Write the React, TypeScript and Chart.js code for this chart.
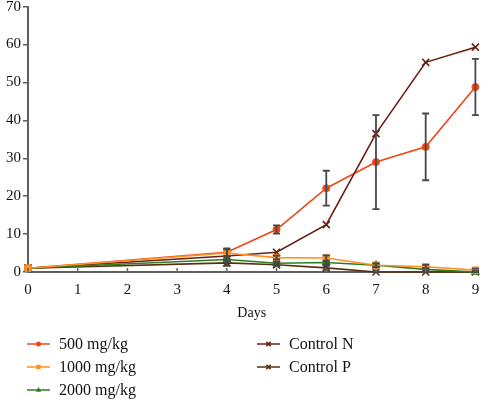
import React, { useEffect, useRef } from "react";
import { Chart, registerables } from "chart.js";

Chart.register(...registerables);

const days = [0, 4, 5, 6, 7, 8, 9];
const v500 = [1, 5.2, 11.2, 22.1, 29.0, 33.0, 48.8];
const e500 = [0, 1.0, 1.1, 4.6, 12.4, 8.8, 7.4];
const v1000 = [1, 5.0, 3.8, 3.7, 1.8, 1.4, 0.5];
const e1000 = [0, 1.0, 0.5, 0.7, 0.5, 0.5, 0.4];
const v2000 = [1, 3.3, 2.3, 2.5, 1.8, 0.7, 0];
const e2000 = [0, 0.8, 0.4, 0.4, 0.4, 0.3, 0.2];
const vCN = [1, 4.2, 5.2, 12.5, 36.5, 55.3, 59.3];
const vCP = [1, 2.4, 1.9, 1.1, 0, 0, 0];
const eCP = [0, 0.8, 0.4, 0.5, 0.2, 0.2, 0.2];
const seriesNames = ["500 mg/kg", "1000 mg/kg", "2000 mg/kg", "Control N", "Control P"];
const xTicks = [0, 1, 2, 3, 4, 5, 6, 7, 8, 9];

const colors = ["#ee4716", "#ff9122", "#2f7d1f", "#6a1e12", "#553112"];
const styles = ["circle", "rect", "triangle", "crossRot", "crossRot"];
const radii = [3.5, 4.5, 4.5, 5, 5];

const FONT = "'Liberation Serif', 'Times New Roman', serif";

function drawMarker(ctx: CanvasRenderingContext2D, style: string, x: number, y: number, r: number, color: string) {
  ctx.save();
  ctx.fillStyle = color;
  ctx.strokeStyle = color;
  ctx.lineWidth = 1.5;
  ctx.beginPath();
  if (style === "circle") {
    ctx.arc(x, y, r, 0, Math.PI * 2);
    ctx.fill();
  } else if (style === "rect") {
    ctx.rect(x - r * 0.75, y - r * 0.75, r * 1.5, r * 1.5);
    ctx.fill();
  } else if (style === "triangle") {
    ctx.moveTo(x, y - r);
    ctx.lineTo(x + r * 0.9, y + r * 0.6);
    ctx.lineTo(x - r * 0.9, y + r * 0.6);
    ctx.closePath();
    ctx.fill();
  } else {
    const d = r * 0.7;
    ctx.moveTo(x - d, y - d);
    ctx.lineTo(x + d, y + d);
    ctx.moveTo(x + d, y - d);
    ctx.lineTo(x - d, y + d);
    ctx.stroke();
  }
  ctx.restore();
}

const errorBarPlugin = {
  id: "errorBars",
  afterDatasetsDraw(chart: any) {
    const ctx = chart.ctx as CanvasRenderingContext2D;
    const xs = chart.scales.x;
    const ys = chart.scales.y;
    const sets: [number[], number[]][] = [
      [v1000, e1000],
      [v2000, e2000],
      [vCP, eCP],
      [v500, e500],
    ];
    ctx.save();
    ctx.strokeStyle = "#474747";
    ctx.lineWidth = 1.8;
    sets.forEach(([vals, errs]) => {
      vals.forEach((v, i) => {
        const e = errs[i];
        if (!e) return;
        const px = xs.getPixelForValue(days[i]);
        const top = ys.getPixelForValue(v + e);
        const bot = ys.getPixelForValue(Math.max(0, v - e));
        ctx.beginPath();
        ctx.moveTo(px, top);
        ctx.lineTo(px, bot);
        ctx.moveTo(px - 3.5, top);
        ctx.lineTo(px + 3.5, top);
        ctx.moveTo(px - 3.5, bot);
        ctx.lineTo(px + 3.5, bot);
        ctx.stroke();
      });
    });
    ctx.restore();
  },
};

const innerTicksPlugin = {
  id: "innerTicks",
  afterDraw(chart: any) {
    const ctx = chart.ctx as CanvasRenderingContext2D;
    const xs = chart.scales.x;
    const y0 = chart.chartArea.bottom;
    ctx.save();
    ctx.strokeStyle = "#666";
    ctx.lineWidth = 1.5;
    xTicks.forEach((t) => {
      const px = xs.getPixelForValue(t);
      ctx.beginPath();
      ctx.moveTo(px, y0);
      ctx.lineTo(px, y0 - 4);
      ctx.stroke();
    });
    ctx.restore();
  },
};

const legendPlugin = {
  id: "customLegend",
  afterDraw(chart: any) {
    const ctx = chart.ctx as CanvasRenderingContext2D;
    const left = chart.chartArea.left;
    const cols = [left - 1, left + 229];
    const rows = [chart.height - 56, chart.height - 33, chart.height - 10];
    ctx.save();
    ctx.font = "16px " + FONT;
    ctx.textBaseline = "middle";
    ctx.fillStyle = "#111";
    seriesNames.forEach((name, i) => {
      const col = i < 3 ? 0 : 1;
      const row = i < 3 ? i : i - 3;
      const x = cols[col];
      const y = rows[row];
      ctx.strokeStyle = colors[i];
      ctx.lineWidth = 1.5;
      ctx.beginPath();
      ctx.moveTo(x, y);
      ctx.lineTo(x + 23, y);
      ctx.stroke();
      drawMarker(ctx, styles[i], x + 11.5, y, i === 0 ? 2.5 : 3, colors[i]);
      ctx.fillStyle = "#111";
      ctx.fillText(name, x + 32, y + 1);
    });
    ctx.restore();
  },
};

export default function App() {
  const ref = useRef<HTMLCanvasElement | null>(null);
  useEffect(() => {
    document.body.style.margin = "0";
    const canvas = ref.current!;
    const valsList = [v500, v1000, v2000, vCN, vCP];
    const order = [3, 0, 1, 2, 4];
    const chart = new Chart(canvas, {
      type: "line",
      data: {
        datasets: valsList.map((vals, i) => ({
          label: seriesNames[i],
          data: vals.map((v, j) => ({ x: days[j], y: v })),
          borderColor: colors[i],
          backgroundColor: colors[i],
          borderWidth: 1.6,
          pointStyle: styles[i] as any,
          pointRadius: radii[i],
          pointBorderWidth: i >= 3 ? 1.6 : 1,
          tension: 0,
          clip: false as any,
          order: order[i],
        })),
      },
      options: {
        animation: false,
        responsive: false,
        maintainAspectRatio: false,
        layout: { padding: { top: 6, right: 6, bottom: 78, left: 0 } },
        plugins: { legend: { display: false }, tooltip: { enabled: false } },
        scales: {
          x: {
            type: "linear",
            min: 0,
            max: 9,
            afterFit: (s: any) => {
              s.height = 50;
              s.paddingLeft = 0;
              s.paddingRight = 0;
            },
            afterBuildTicks: (s: any) => {
              s.ticks = xTicks.map((v) => ({ value: v }));
            },
            border: { display: true, color: "#5e5e5e", width: 2 },
            grid: { display: false, drawTicks: false },
            ticks: { color: "#111", font: { family: FONT, size: 15 }, padding: 9 },
            title: { display: true, text: "Days", color: "#111", font: { family: FONT, size: 14 }, padding: { top: 3, bottom: 0 } },
          },
          y: {
            type: "linear",
            min: 0,
            max: 70,
            afterFit: (s: any) => {
              s.width = 28;
              s.paddingTop = 0;
              s.paddingBottom = 0;
            },
            border: { display: true, color: "#5e5e5e", width: 2 },
            grid: { drawOnChartArea: false, drawTicks: true, tickLength: 5, color: "#5e5e5e", lineWidth: 1.5 },
            ticks: { stepSize: 10, color: "#111", font: { family: FONT, size: 15 }, padding: 2 },
          },
        },
      },
      plugins: [errorBarPlugin, innerTicksPlugin, legendPlugin],
    });
    return () => chart.destroy();
  }, []);
  return <canvas ref={ref} width={482} height={400} style={{ display: "block", width: 482, height: 400 }} />;
}
